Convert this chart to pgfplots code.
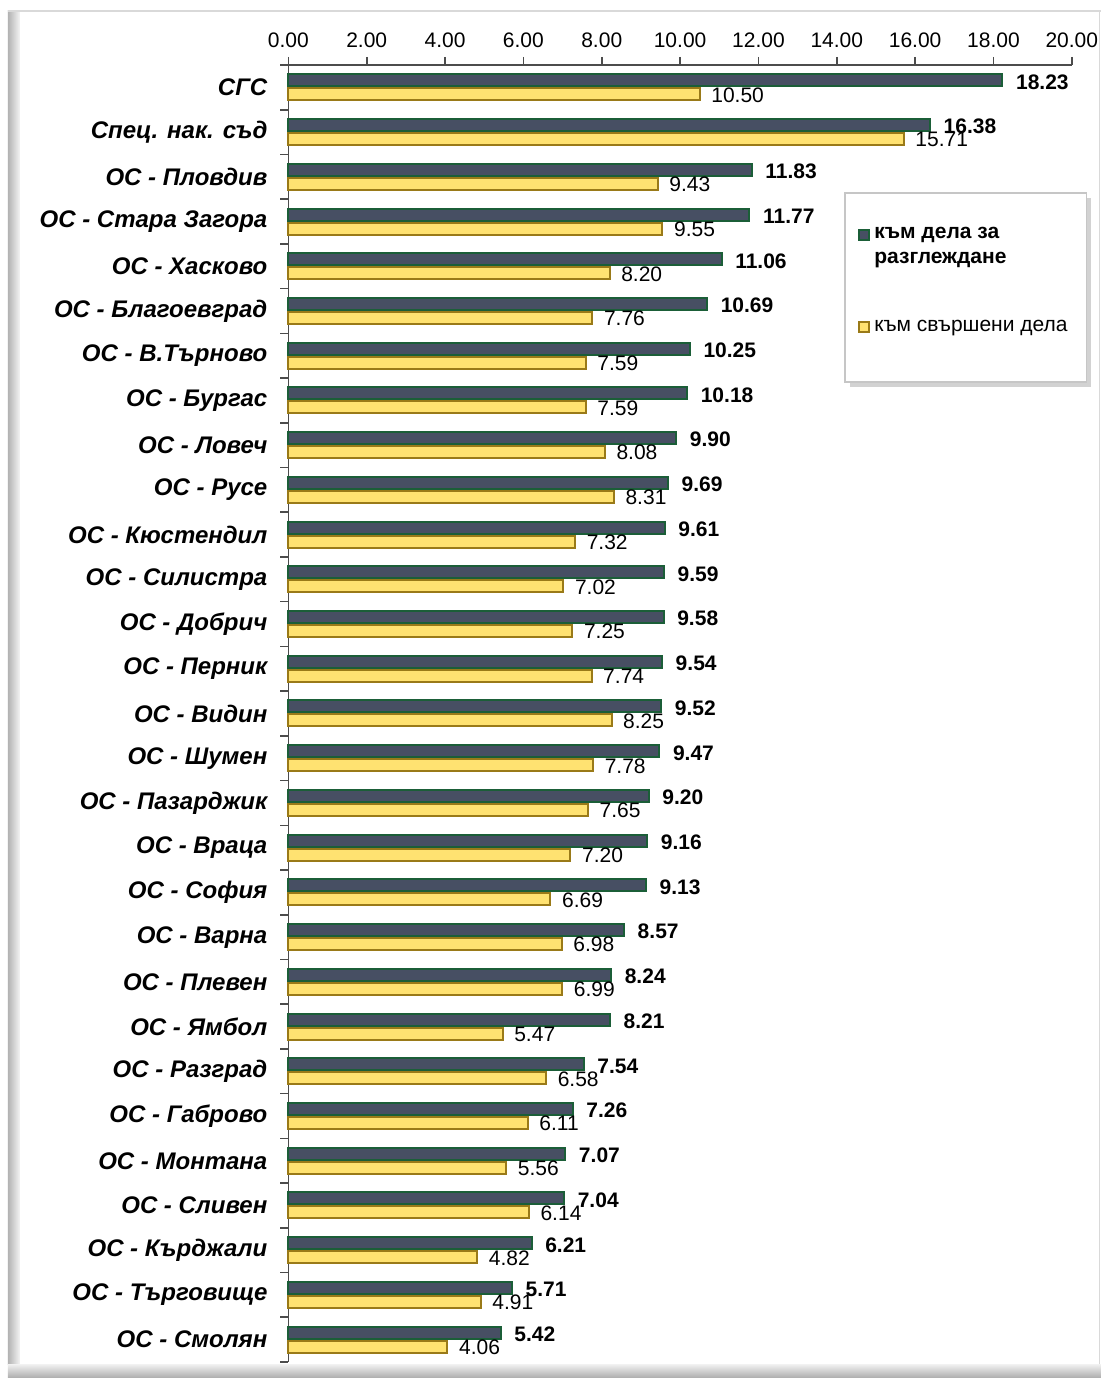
\documentclass[border=0pt]{standalone}
\usepackage{fontspec}
\setmainfont{Liberation Sans}
\usepackage{pgfplots}
\pgfplotsset{compat=1.18}
\usepackage{pgfplotstable}
\usetikzlibrary{shadows}
\definecolor{slatebar}{HTML}{474F63}
\definecolor{greenedge}{HTML}{1B5E38}
\definecolor{yellowbar}{HTML}{FFE271}
\definecolor{goldedge}{HTML}{9A7A18}
\pgfplotstableread{
y a b
28 18.23 10.50
27 16.38 15.71
26 11.83 9.43
25 11.77 9.55
24 11.06 8.20
23 10.69 7.76
22 10.25 7.59
21 10.18 7.59
20 9.90 8.08
19 9.69 8.31
18 9.61 7.32
17 9.59 7.02
16 9.58 7.25
15 9.54 7.74
14 9.52 8.25
13 9.47 7.78
12 9.20 7.65
11 9.16 7.20
10 9.13 6.69
9 8.57 6.98
8 8.24 6.99
7 8.21 5.47
6 7.54 6.58
5 7.26 6.11
4 7.07 5.56
3 7.04 6.14
2 6.21 4.82
1 5.71 4.91
0 5.42 4.06
}\data
\begin{document}
\begin{tikzpicture}
\useasboundingbox (-144.2pt,-8pt) rectangle (406.3pt,681pt);
% outer frame
\fill[white] (-144.2pt,-8pt) rectangle (406.3pt,681pt);
\shade[left color=gray!60, right color=gray!8] (-140.2pt,-1pt) rectangle (-134.2pt,675.5pt);
\shade[top color=gray!10, bottom color=gray!65] (-140.2pt,-8pt) rectangle (406.3pt,-1pt);
\draw[gray!30, line width=0.8pt] (-140.2pt,675.5pt) -- (406.3pt,675.5pt);
\draw[gray!30, line width=0.8pt] (405.5pt,-1pt) -- (405.5pt,675.5pt);
% legend box
\draw[gray!45, line width=0.8pt, fill=white, drop shadow={shadow xshift=2.5pt, shadow yshift=-2.5pt, fill=gray!70}] (278.3pt,490pt) rectangle (399pt,584.5pt);
\begin{axis}[
  at={(0pt,0pt)}, anchor=south west,
  scale only axis, width=391.7pt, height=648.5pt,
  xmin=0, xmax=20, ymin=-0.5, ymax=28.5,
  clip=false,
  axis x line*=top, axis y line*=left,
  axis line style={gray!60!black, line width=0.8pt},
  tick align=outside, major tick length=4pt,
  tick style={gray!60!black, line width=0.8pt},
  xtick={0,2,...,20},
  /pgf/number format/.cd, fixed, fixed zerofill, precision=2, assume math mode=true, /pgfplots/.cd,
  xticklabel style={font=\fontsize{10.5}{12}\selectfont, yshift=1pt},
  ytick={-0.5,0.5,...,28.5},
  yticklabels={ОС - Смолян, ОС - Търговище, ОС - Кърджали, ОС - Сливен, ОС - Монтана, ОС - Габрово, ОС - Разград, ОС - Ямбол, ОС - Плевен, ОС - Варна, ОС - София, ОС - Враца, ОС - Пазарджик, ОС - Шумен, ОС - Видин, ОС - Перник, ОС - Добрич, ОС - Силистра, ОС - Кюстендил, ОС - Русе, ОС - Ловеч, ОС - Бургас, ОС - В.Търново, ОС - Благоевград, ОС - Хасково, ОС - Стара Загора, ОС - Пловдив, Спец. нак. съд, СГС, {}},
  yticklabel style={font=\bfseries\itshape\fontsize{12}{14}\selectfont, yshift=11.18pt, xshift=-3pt},
  legend style={at={(axis description cs:0.727,0.877)}, anchor=north west, draw=none, fill=none, inner sep=0pt, row sep=25pt, column sep=1pt, font=\fontsize{10.5}{12.5}\selectfont, nodes={align=left, inner sep=1pt}},
  legend cell align=left,
]
\addplot[xbar, bar width=6pt, bar shift=3.5pt, fill=slatebar, draw=greenedge, line width=1pt,
  point meta=x, nodes near coords,
  nodes near coords style={font=\bfseries\fontsize{10.5}{12}\selectfont, anchor=west, xshift=3pt, yshift=2.7pt, text=black},
  legend image code/.code={\draw[fill=slatebar, draw=greenedge, line width=1pt] (0pt,3.5pt) rectangle (5pt,8.5pt);}
] table[x=a, y=y] {\data};
\addlegendentry{\textbf{към дела за}\\\textbf{разглеждане}}
\addplot[xbar, bar width=6pt, bar shift=-3.5pt, fill=yellowbar, draw=goldedge, line width=1pt,
  point meta=x, nodes near coords,
  nodes near coords style={font=\fontsize{10.5}{12}\selectfont, anchor=west, xshift=2pt, yshift=-3.8pt, text=black},
  legend image code/.code={\draw[fill=yellowbar, draw=goldedge, line width=1pt] (0pt,-2.5pt) rectangle (5pt,2.5pt);}
] table[x=b, y=y] {\data};
\addlegendentry{към свършени дела}
\end{axis}
\end{tikzpicture}
\end{document}
